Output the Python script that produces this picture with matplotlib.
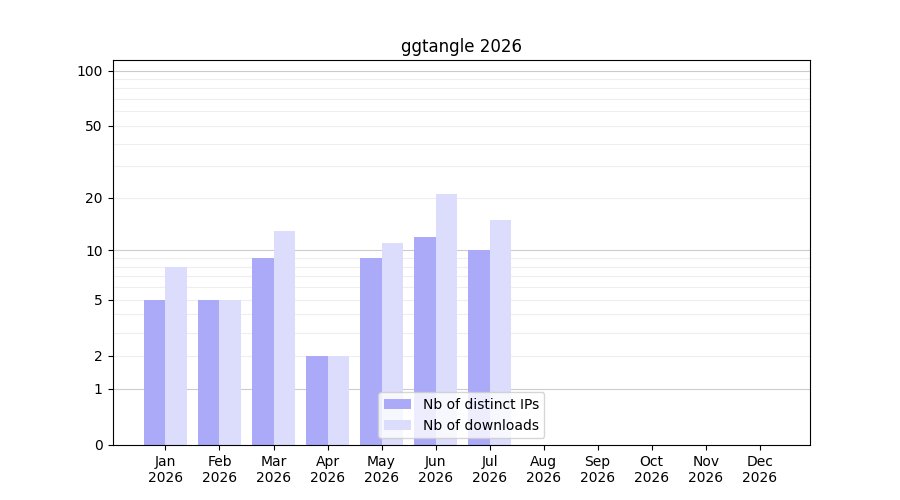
import numpy as np
import matplotlib
matplotlib.use("Agg")
import matplotlib.pyplot as plt

months = ["Jan", "Feb", "Mar", "Apr", "May", "Jun", "Jul", "Aug", "Sep", "Oct", "Nov", "Dec"]
year = "2026"
distinct_ips = [5, 5, 9, 2, 9, 12, 10]
downloads = [8, 5, 13, 2, 11, 21, 15]
major_ticks = [0, 1, 2, 5, 10, 20, 50, 100]
minor_ticks = [3, 4, 6, 7, 8, 9, 30, 40, 60, 70, 80, 90]

fig, ax = plt.subplots(figsize=(9, 5), dpi=100)

ax.set_yscale("function", functions=(lambda v: np.log10(1 + np.clip(v, 0, None)),
                                     lambda v: 10 ** v - 1))

x = np.arange(len(distinct_ips))
w = 0.4
ax.bar(x - w / 2, distinct_ips, width=w, color="#aaaaf8", label="Nb of distinct IPs", zorder=2)
ax.bar(x + w / 2, downloads, width=w, color="#dcdcfc", label="Nb of downloads", zorder=2)

ax.set_ylim(0, 114)
ax.set_xlim(-0.98, 11.93)
ax.set_yticks(major_ticks)
ax.set_yticklabels([str(t) for t in major_ticks])
ax.set_yticks(minor_ticks, minor=True)
ax.tick_params(axis="y", which="minor", length=0)
for v in major_ticks + minor_ticks:
    if v in (1, 10, 100):
        ax.axhline(v, color="#cccccc", lw=0.8, zorder=0)
    elif v != 0:
        ax.axhline(v, color="#eeeeee", lw=0.8, zorder=0)

ax.set_xticks(range(12))
ax.set_xticklabels([f"{m}\n{year}" for m in months])
ax.set_title("ggtangle 2026")
ax.legend(loc="lower center")

fig.savefig("out.png", dpi=100)
